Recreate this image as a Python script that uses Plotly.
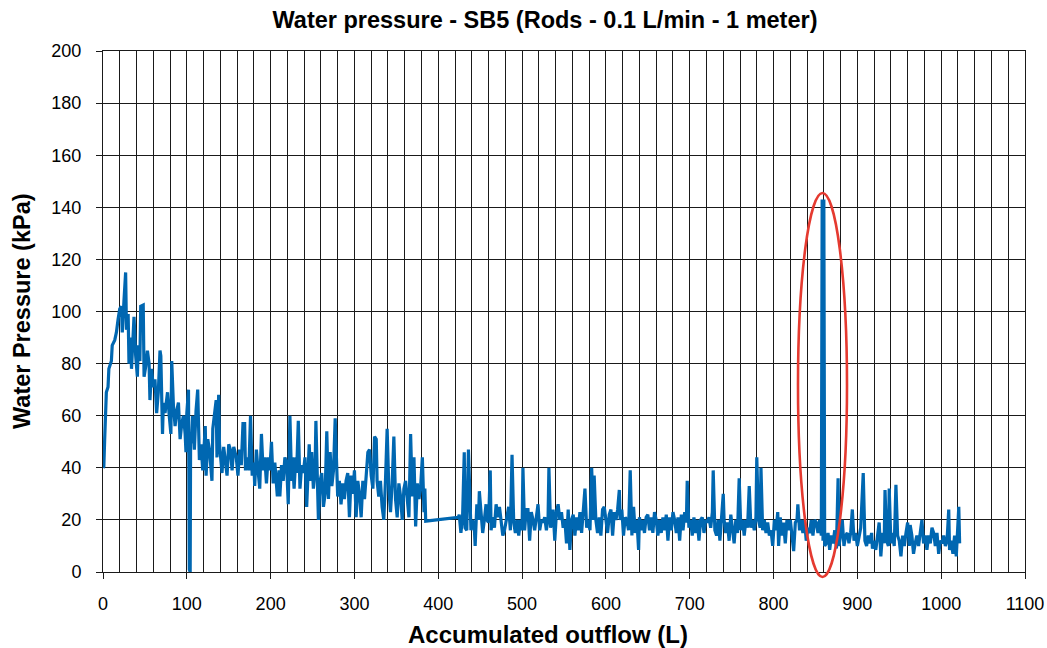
import plotly.graph_objects as go

# ---- data (accumulated outflow [L], water pressure [kPa]) ----
outflow_a = [0, 1, 2, 4, 6, 7, 10, 11, 14, 16, 18, 20, 22, 23, 25, 27, 28, 30, 31, 33,
             34, 36, 37, 39, 41, 42, 44, 45, 48, 49, 51, 53, 55, 56, 58, 60, 62, 64, 66, 68,
             69, 71, 72, 74, 77, 79, 81, 82, 84, 86, 88, 90, 92, 94, 96, 98, 99, 100, 102, 103,
             104, 104.5, 106, 107, 109, 111, 113, 115, 117, 119, 122, 123, 125, 127, 130, 131, 133, 135, 136, 138,
             139, 142, 144, 146, 148, 150, 152, 154, 156, 159, 161, 163, 165, 167, 169, 170, 172, 174, 176, 178,
             180, 181, 183, 185, 187, 189, 191, 193, 195, 197, 199, 201, 203, 205, 208, 210]
pressure_a = [40, 40.5, 51, 69, 71, 78, 81, 87, 89, 92, 97, 101, 102, 92, 104, 115, 93, 99, 80, 90,
              78, 94, 98, 83, 75, 87, 81, 102, 102.5, 75, 79, 85, 80, 66, 78, 71, 74, 61, 69, 85,
              83, 53, 65, 61, 69, 60, 53, 81, 64, 56, 62, 65, 51, 57, 60, 53, 46, 61, 70, 1,
              0, 49, 53, 60, 47, 62, 70, 43, 49, 39, 56, 37, 51, 47, 35, 55, 62, 66, 44, 68,
              49, 38, 48, 42, 37, 49, 47, 39, 48, 44, 37, 47, 41, 57, 57, 39, 44, 39, 60, 37,
              42, 33, 47, 39, 32, 53, 39, 44, 34, 44, 39, 50, 34, 42, 29, 39]

outflow_b = [211, 213, 215, 217, 219, 221, 223, 225, 226, 228, 230, 231, 233, 235, 237, 239, 241, 243, 245, 246,
             248, 249, 251, 253, 254, 256, 257, 259, 261, 263, 265, 267, 269, 271, 273, 275, 277, 280, 282, 284,
             286, 288, 290, 292, 294, 296, 298, 300, 302, 304, 306, 308, 310, 312, 314, 316, 318, 320, 322, 324,
             326, 327, 329, 331, 333, 335, 337, 339, 341, 343, 345, 347, 349, 351, 353, 355, 357, 359, 361, 363,
             365, 367, 369, 371, 373, 375, 377, 379, 381, 383, 384, 385]
pressure_b = [29, 41, 35, 44, 42, 26, 60, 35, 44, 32, 44, 38, 58, 32, 41, 38, 44, 25, 39, 49,
              35, 46, 32, 39, 58, 29, 20, 35, 38, 25, 30, 54, 28, 46, 33, 39, 59, 29, 35, 26,
              34, 28, 35, 38, 21, 37, 30, 39, 21, 35, 30, 21, 35, 28, 38, 46, 47, 37, 32, 52,
              51, 35, 29, 35, 25, 20, 35, 55, 32, 23, 34, 52, 28, 21, 34, 29, 20, 32, 35, 26,
              21, 53, 29, 44, 17.5, 34, 28, 33, 44, 23, 32, 19.5]

outflow_c = [424, 425, 427, 429, 431, 432, 434, 436, 438, 439, 441, 443, 444, 446, 448, 449, 451, 453, 455, 457,
             458, 460, 462, 463, 465, 467, 469, 471, 473, 475, 477, 479, 481, 484, 486, 488, 490, 492, 494, 496,
             498, 500, 501, 503, 505, 507, 509, 511, 513, 515, 517, 519, 521, 523, 525, 527, 529, 531, 532, 534,
             535, 537, 539, 541, 543, 545, 547, 549, 551, 553, 555, 557, 559, 561, 563, 565, 567, 569, 571, 573,
             575, 577, 579, 581, 583, 585, 586, 588, 590, 592, 594, 596, 598, 600, 602, 604, 606, 608, 610, 612,
             614, 616, 617, 619, 621, 623, 625, 627, 629, 631, 633, 635, 637, 639]
pressure_c = [21, 22, 15, 21, 46, 17, 16, 47, 20, 16, 20, 17, 10, 26, 20, 31, 23, 15, 20, 26,
              20, 19, 39, 16, 21, 17, 26, 21, 25, 20, 14, 16, 20, 25, 16, 45, 19, 15, 20, 14,
              20, 16, 40, 16, 24, 24, 12, 23, 20, 16, 21, 26, 16, 20, 19, 21, 16, 21, 40, 17,
              20, 24, 12, 23, 26, 20, 23, 17, 20, 11, 24, 8.5, 20, 22, 14, 21, 16, 23, 15, 24,
              32, 17, 20, 16, 40, 20, 37, 20, 15, 21, 14, 24, 25, 20, 15, 22, 24, 14, 23, 20,
              24, 31.5, 20, 24, 14, 21, 20, 16, 39, 14, 25, 15, 20, 8.5]

outflow_d = [640, 642, 644, 646, 648, 650, 652, 654, 656, 658, 660, 662, 664, 666, 668, 670, 672, 674, 676, 678,
             680, 682, 684, 686, 688, 690, 692, 694, 696, 697, 699, 701, 703, 705, 707, 709, 711, 713, 715, 717,
             719, 721, 723, 725, 727, 728, 730, 732, 734, 736, 738, 740, 741, 743, 745, 747, 749, 751, 753, 755,
             757, 759, 761, 763, 765, 767, 769, 771, 773, 775, 777, 779, 780, 782, 784, 785, 787, 789, 791, 793,
             795, 797, 799, 801, 803, 805, 806, 808, 810, 812, 814, 816, 818, 820, 822, 824, 826, 828, 829, 831,
             833, 835, 837, 839, 841, 843, 845, 847, 849, 851, 853, 855, 857]
pressure_d = [21, 16, 20, 15, 21, 22, 16, 21, 15, 23, 20, 14, 20, 15, 21, 16, 22, 12, 21, 16,
              23, 20, 15, 21, 12, 22, 16, 23, 19, 35, 17, 20, 14, 21, 15, 20, 12, 20, 21, 15,
              20, 19, 21, 17, 23, 39, 16, 14, 20, 12, 23, 30, 20, 15, 19, 12, 22, 16, 11, 20,
              15, 36, 16, 20, 14, 20, 17, 33, 17, 20, 16, 21, 44, 20, 17, 40, 16, 20, 15, 19,
              14, 16, 10, 20, 16, 23, 10, 21, 14, 19, 11, 20, 16, 20, 15, 8, 19, 20, 26, 16,
              20, 15, 20, 12, 17, 15, 20, 14, 20, 19, 15, 20, 14]

outflow_spike = [858, 859, 860, 861]
pressure_spike = [143, 12, 143, 10]

outflow_e = [863, 865, 867, 869, 871, 873, 875, 877, 878, 880, 882, 884, 886, 888, 890, 892, 894, 896, 898, 900,
             902, 904, 907, 909, 911, 913, 915, 917, 918, 920, 922, 924, 926, 928, 930, 932, 933, 935, 937, 938,
             940, 942, 944, 946, 948, 950, 952, 954, 956, 958, 960, 962, 963, 965, 967, 969, 971, 973, 975, 977,
             979, 981, 983, 985, 987, 989, 991, 993, 995, 997, 999, 1001, 1003, 1005, 1007, 1009, 1010, 1012, 1014, 1016,
             1018, 1020, 1021, 1022]
pressure_e = [11, 15, 8.5, 14, 11, 16, 9, 36, 10, 14, 20, 10, 14, 15, 11, 15, 24, 12, 15, 10,
              14, 17, 38, 12, 10, 14, 11, 15, 9, 12, 8.5, 15, 19, 6, 15, 11, 31.5, 12, 10, 32,
              11, 15, 10, 33.5, 14, 12, 6, 14, 10, 15, 19, 10, 18, 14, 7, 11, 14, 10, 15, 20,
              11, 14, 8.5, 14, 11, 17, 15, 10, 15, 7, 12, 11, 14, 10, 12, 24, 8.5, 12, 7, 14,
              6, 20, 25, 11]

x_ticks = [0, 100, 200, 300, 400, 500, 600, 700, 800, 900, 1000, 1100]
y_ticks = [0, 20, 40, 60, 80, 100, 120, 140, 160, 180, 200]

segments = [(outflow_a, pressure_a), (outflow_b, pressure_b), (outflow_c, pressure_c),
            (outflow_d, pressure_d), (outflow_spike, pressure_spike), (outflow_e, pressure_e)]
outflow, pressure = [], []
for xs, ys in segments:
    assert len(xs) == len(ys), (len(xs), len(ys), xs[0])
    outflow += xs
    pressure += ys

# plot area in pixels (1047 x 648 page)
L, R, T, B = 103, 22, 51, 76
W, H = 1047, 648
pw, ph = W - L - R, H - T - B

fig = go.Figure()
fig.add_trace(go.Scatter(x=outflow, y=pressure, mode="lines",
                         line=dict(color="#0067B1", width=3.2), hoverinfo="x+y",
                         showlegend=False))

grid = "#1a1a1a"
fig.update_xaxes(range=[0, 1100], tickmode="array", tickvals=x_ticks,
                 ticks="outside", ticklen=6, tickcolor=grid, automargin=False,
                 ticklabelstandoff=9,
                 showgrid=True, gridcolor=grid, gridwidth=1,
                 minor=dict(dtick=20, showgrid=True, gridcolor=grid, gridwidth=1),
                 showline=True, linecolor=grid, linewidth=1, mirror=True,
                 zeroline=False, tickfont=dict(size=18, color="#000"))
fig.update_yaxes(range=[0, 200], tickmode="array", tickvals=y_ticks,
                 ticks="outside", ticklen=6, tickcolor=grid, automargin=False,
                 ticklabelstandoff=11,
                 showgrid=True, gridcolor=grid, gridwidth=1,
                 showline=True, linecolor=grid, linewidth=1, mirror=True,
                 zeroline=False, tickfont=dict(size=18, color="#000"))

# red ellipse highlighting the pressure spike
def px_x(p):
    return (p - L) / pw

def px_y(p):
    return (H - B - p) / ph

fig.add_shape(type="circle", xref="paper", yref="paper",
              x0=px_x(798), x1=px_x(847), y0=px_y(577), y1=px_y(193),
              line=dict(color="#E53A30", width=2.6), layer="above")

fig.add_annotation(text="<b>Accumulated outflow (L)</b>", xref="paper", yref="paper",
                   x=px_x(548), y=px_y(634), showarrow=False,
                   font=dict(size=24, color="#000"), xanchor="center", yanchor="middle")
fig.add_annotation(text="<b>Water Pressure (kPa)</b>", xref="paper", yref="paper",
                   x=px_x(22), y=px_y(311), showarrow=False, textangle=-90,
                   font=dict(size=23.5, color="#000"), xanchor="center", yanchor="middle")

fig.update_layout(
    width=W, height=H,
    margin=dict(l=L, r=R, t=T, b=B),
    paper_bgcolor="white", plot_bgcolor="white",
    font=dict(family="Arial, Liberation Sans, sans-serif", color="#000"),
    title=dict(text="<b>Water pressure - SB5 (Rods - 0.1 L/min - 1 meter)</b>",
               x=545 / W, y=1 - 20 / H, xref="container", yref="container",
               xanchor="center", yanchor="middle", font=dict(size=23.5, color="#000")),
)

fig.write_html("out.html")
